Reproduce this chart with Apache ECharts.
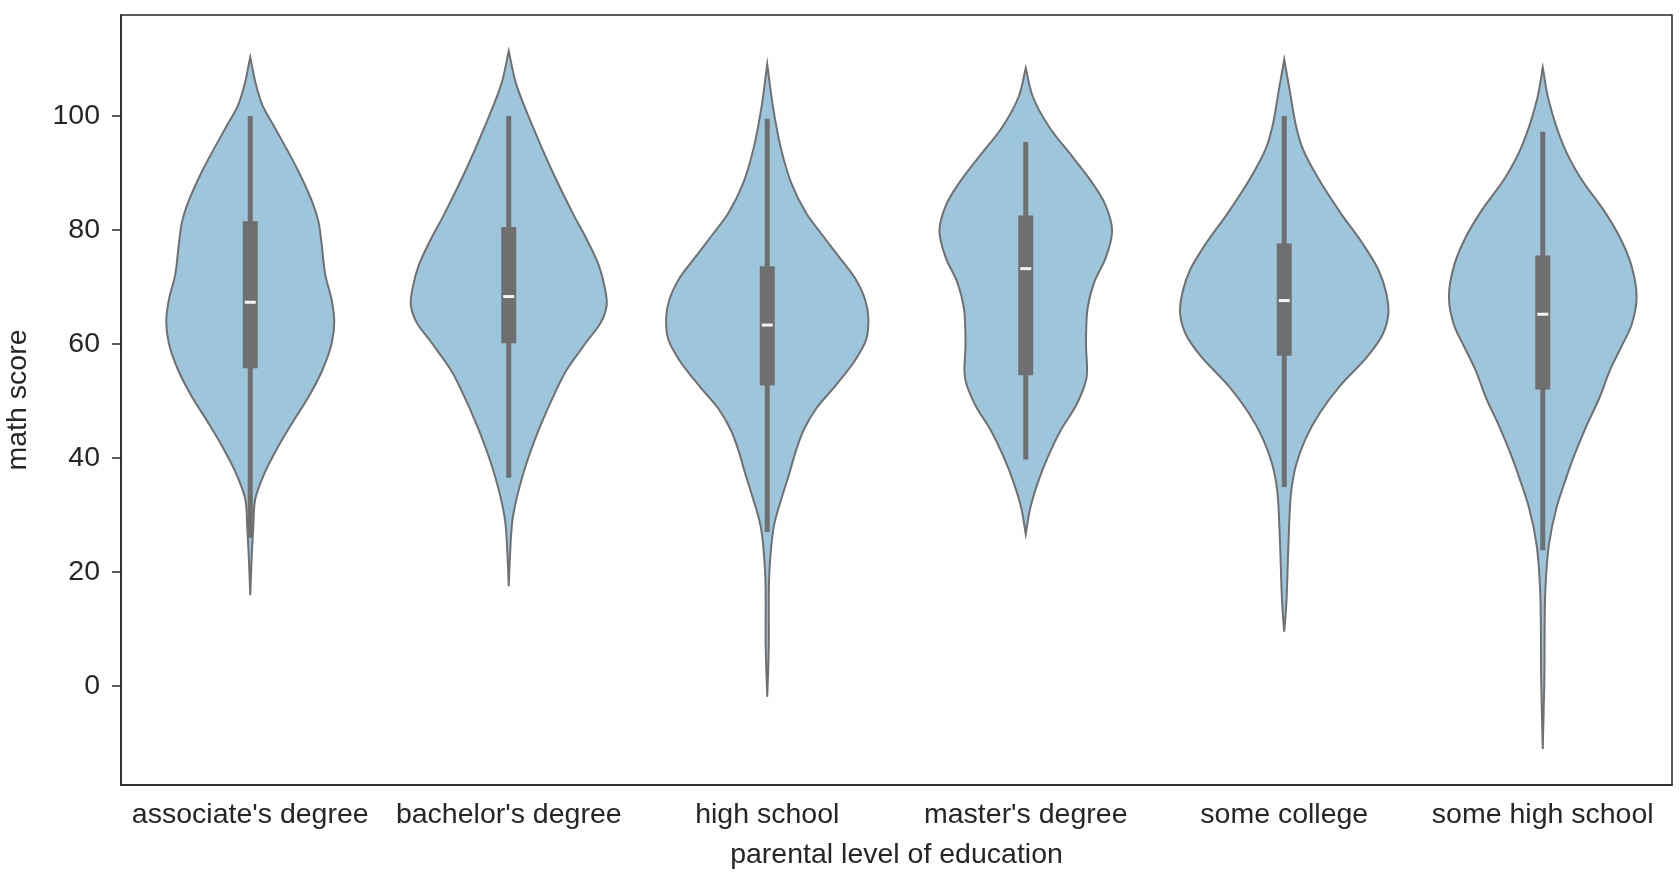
<!DOCTYPE html>
<html>
<head>
<meta charset="utf-8">
<title>math score by parental level of education</title>
<script src="https://cdn.jsdelivr.net/npm/echarts@6/dist/echarts.min.js"></script>
<style>
  html, body { margin: 0; padding: 0; background: #fff; }
  #chart { width: 1680px; height: 882px; }
</style>
</head>
<body>
<div id="chart"></div>
<script>
const categories = ["associate's degree", "bachelor's degree", 'high school', "master's degree", 'some college', 'some high school'];
const yTicks = [0, 20, 40, 60, 80, 100];

// violin outlines, top to bottom: [math score, half width as share of the category band]
const associateProfile = [
  [110.3, 0], [105.7, 0.021], [101.9, 0.047], [98.1, 0.093], [90.5, 0.184], [84.4, 0.244],
  [81.4, 0.264], [77.6, 0.276], [72.2, 0.290], [67.7, 0.315], [63.9, 0.325], [60.1, 0.315],
  [55.5, 0.280], [50.9, 0.228], [46.4, 0.166], [41.8, 0.106], [37.2, 0.054], [32.7, 0.019],
  [28.1, 0.012], [22.0, 0.005], [15.9, 0]
];
const bachelorProfile = [
  [111.4, 0], [105.7, 0.028], [98.1, 0.093], [90.5, 0.166], [82.9, 0.248], [78.3, 0.302],
  [73.8, 0.348], [70.0, 0.371], [66.9, 0.379], [63.9, 0.358], [60.1, 0.297], [55.5, 0.225],
  [52.5, 0.190], [44.8, 0.115], [37.2, 0.056], [29.6, 0.016], [23.0, 0.005], [17.5, 0]
];
const highSchoolProfile = [
  [109.1, 0], [101.9, 0.021], [94.3, 0.053], [88.2, 0.093], [82.9, 0.151], [79.1, 0.213],
  [75.3, 0.277], [71.5, 0.340], [67.7, 0.379], [64.6, 0.391], [60.8, 0.383], [57.0, 0.338],
  [52.5, 0.261], [48.7, 0.190], [44.8, 0.140], [41.1, 0.110], [37.2, 0.085], [32.7, 0.054],
  [28.1, 0.026], [19.7, 0.008], [6.8, 0.006], [-1.9, 0]
];
const masterProfile = [
  [108.4, 0], [103.4, 0.027], [98.1, 0.090], [92.8, 0.181], [88.2, 0.258], [84.4, 0.308],
  [79.9, 0.334], [75.3, 0.311], [70.7, 0.264], [66.2, 0.239], [60.1, 0.233], [54.0, 0.235],
  [49.4, 0.197], [44.8, 0.135], [40.3, 0.087], [35.7, 0.047], [31.1, 0.017], [26.6, 0]
];
const someCollegeProfile = [
  [109.9, 0], [104.2, 0.022], [98.1, 0.046], [94.3, 0.071], [89.0, 0.132], [82.9, 0.219],
  [77.6, 0.303], [73.0, 0.364], [69.2, 0.393], [65.4, 0.403], [61.6, 0.380], [57.8, 0.322],
  [52.5, 0.213], [47.9, 0.138], [43.3, 0.082], [38.8, 0.046], [34.2, 0.027], [25.8, 0.017],
  [14.4, 0.008], [9.5, 0]
];
const someHighSchoolProfile = [
  [108.5, 0], [102.9, 0.022], [94.8, 0.080], [89.2, 0.145], [83.5, 0.235], [78.7, 0.298],
  [73.9, 0.342], [68.2, 0.363], [63.4, 0.344], [59.4, 0.303], [55.4, 0.260], [50.5, 0.219],
  [45.7, 0.170], [40.9, 0.126], [36.0, 0.087], [31.2, 0.053], [24.8, 0.024], [16.7, 0.010],
  [0.6, 0.006], [-11.1, 0]
];
const profiles = [associateProfile, bachelorProfile, highSchoolProfile, masterProfile, someCollegeProfile, someHighSchoolProfile];

// inner box stats
const whiskerLow = [26, 36.5, 27, 39.7, 34.9, 23.8];
const q1 = [55.7, 60.1, 52.7, 54.5, 57.9, 52.0];
const medians = [67.3, 68.3, 63.3, 73.2, 67.6, 65.2];
const q3 = [81.5, 80.5, 73.6, 82.5, 77.6, 75.5];
const whiskerHigh = [100, 100, 99.5, 95.4, 100, 97.2];

const FONT = "'Liberation Sans', Arial, sans-serif";
const INK = '#262626';
const FS = 28.5;

const chart = echarts.init(document.getElementById('chart'));

function dist(a, b) {
  return Math.hypot(b[0] - a[0], b[1] - a[1]);
}

// centripetal catmull-rom through the outline points, as cubic bezier segments
function splinePath(pts, startWithMove) {
  let d = startWithMove ? 'M' + pts[0][0] + ',' + pts[0][1] : '';
  const n = pts.length;
  for (let k = 0; k < n - 1; k++) {
    const p0 = pts[Math.max(k - 1, 0)];
    const p1 = pts[k];
    const p2 = pts[k + 1];
    const p3 = pts[Math.min(k + 2, n - 1)];
    const l1 = dist(p0, p1), l2 = dist(p1, p2), l3 = dist(p2, p3);
    const d1 = Math.sqrt(l1), d2 = Math.sqrt(l2), d3 = Math.sqrt(l3);
    let c1, c2;
    if (d1 < 1e-6) {
      c1 = [p1[0] + (p2[0] - p1[0]) / 3, p1[1] + (p2[1] - p1[1]) / 3];
    } else {
      const den = 3 * d1 * (d1 + d2);
      c1 = [0, 1].map(j => (l1 * p2[j] - l2 * p0[j] + (2 * l1 + 3 * d1 * d2 + l2) * p1[j]) / den);
    }
    if (d3 < 1e-6) {
      c2 = [p2[0] - (p2[0] - p1[0]) / 3, p2[1] - (p2[1] - p1[1]) / 3];
    } else {
      const den = 3 * d3 * (d3 + d2);
      c2 = [0, 1].map(j => (l3 * p1[j] - l2 * p3[j] + (2 * l3 + 3 * d3 * d2 + l2) * p2[j]) / den);
    }
    d += 'C' + c1[0] + ',' + c1[1] + ',' + c2[0] + ',' + c2[1] + ',' + p2[0] + ',' + p2[1];
  }
  return d;
}

function renderViolin(params, api) {
  const i = api.value(0);
  const prof = profiles[i];
  const band = api.size([1, 0])[0];
  const left = [], right = [];
  for (let k = 0; k < prof.length; k++) {
    const c = api.coord([i, prof[k][0]]);
    left.push([c[0] - prof[k][1] * band, c[1]]);
    right.push([c[0] + prof[k][1] * band, c[1]]);
  }
  right.reverse();
  const pathData = splinePath(left, true) + splinePath(right, false) + 'Z';

  const wTop = api.coord([i, whiskerHigh[i]]);
  const wBot = api.coord([i, whiskerLow[i]]);
  const bTop = api.coord([i, q3[i]]);
  const bBot = api.coord([i, q1[i]]);
  const med = api.coord([i, medians[i]]);
  const cx = wTop[0];
  return {
    type: 'group',
    children: [
      {
        type: 'path',
        shape: { pathData: pathData },
        style: { fill: '#9dc6dd', stroke: '#707070', lineWidth: 2 }
      },
      {
        type: 'line',
        shape: { x1: cx, y1: wTop[1], x2: cx, y2: wBot[1] },
        style: { stroke: '#6f6f6f', lineWidth: 5 }
      },
      {
        type: 'rect',
        shape: { x: cx - 7.5, y: bTop[1], width: 15, height: bBot[1] - bTop[1] },
        style: { fill: '#6f6f6f' }
      },
      {
        type: 'rect',
        shape: { x: cx - 5.5, y: med[1] - 1.5, width: 11, height: 3 },
        style: { fill: '#f4f4f4' }
      }
    ]
  };
}

const option = {
  animation: false,
  grid: {
    left: 121, right: 8, top: 15, bottom: 97,
    show: true, borderColor: INK, borderWidth: 1.5,
    containLabel: false, outerBoundsMode: 'none'
  },
  xAxis: {
    type: 'category',
    data: categories,
    boundaryGap: true,
    name: 'parental level of education',
    nameLocation: 'middle',
    nameGap: 56,
    nameTextStyle: { fontFamily: FONT, fontSize: FS, color: INK },
    axisLine: { onZero: false, lineStyle: { color: INK, width: 1.5 } },
    axisTick: { alignWithLabel: true, length: 9, lineStyle: { color: INK, width: 1.5 } },
    axisLabel: { fontFamily: FONT, fontSize: FS, color: INK, margin: 16, interval: 0 },
    splitLine: { show: false }
  },
  yAxis: {
    type: 'value',
    min: -17.4,
    max: 117.7,
    name: 'math score',
    nameLocation: 'middle',
    nameGap: 88,
    nameTextStyle: { fontFamily: FONT, fontSize: FS, color: INK },
    axisLine: { show: true, lineStyle: { color: INK, width: 1.5 } },
    axisTick: { show: true, length: 9, customValues: yTicks, lineStyle: { color: INK, width: 1.5 } },
    axisLabel: { fontFamily: FONT, fontSize: FS, color: INK, margin: 21, customValues: yTicks },
    splitLine: { show: false }
  },
  series: [{
    type: 'custom',
    renderItem: renderViolin,
    encode: { x: 0, y: 1 },
    data: categories.map((c, i) => [i, medians[i]])
  }]
};

chart.setOption(option);
</script>
</body>
</html>
